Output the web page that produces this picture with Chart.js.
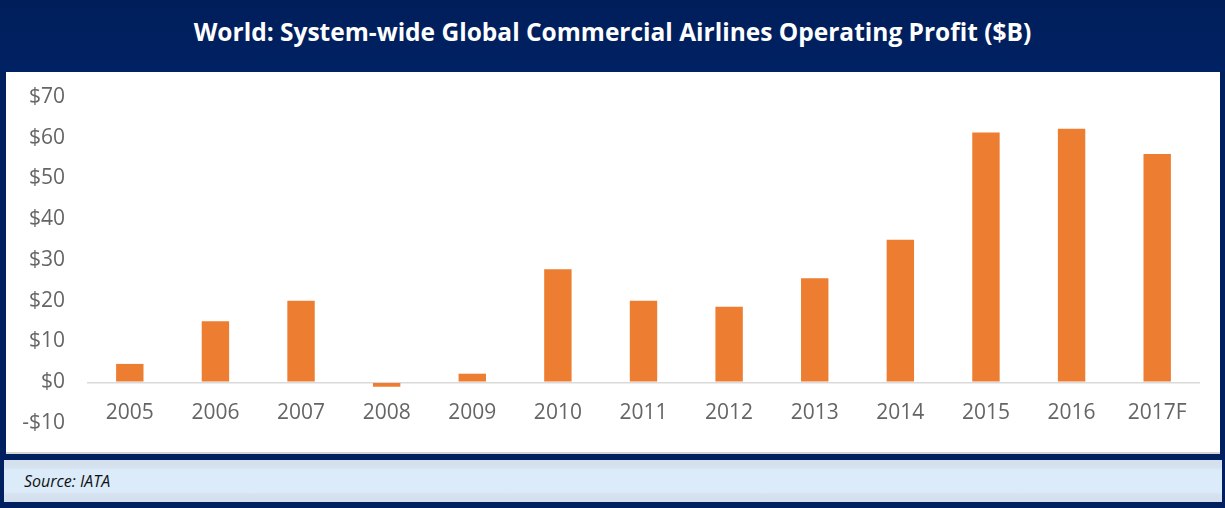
<!DOCTYPE html>
<html>
<head>
<meta charset="utf-8">
<script src="https://cdn.jsdelivr.net/npm/chart.js@4"></script>
<style>
  html, body { margin: 0; padding: 0; }
  body { width: 1225px; height: 508px; background: #002060; position: relative; overflow: hidden; font-family: "Open Sans", sans-serif; }
  #title { position: absolute; left: 0; top: 0; width: 1225px; height: 72px; background: linear-gradient(#001e5a, #002163); color: #fff; font-weight: 700; font-size: 24.5px; display: flex; align-items: center; justify-content: center; padding-bottom: 10px; box-sizing: border-box; }
  #panel { position: absolute; left: 6px; top: 72px; width: 1214px; height: 380px; background: #fff; border-bottom: 2px solid #d4d4d4; }
  #source { position: absolute; left: 4px; top: 460px; width: 1218px; height: 42px; background: linear-gradient(#d4dfec 0%, #d6e2ef 18%, #dcebf9 24%, #dcebf9 76%, #d6e2ef 82%, #d4dfec 100%); font-style: italic; font-size: 16px; color: #111; line-height: 42px; padding-left: 20px; box-sizing: border-box; }
  #chartBox { position: absolute; left: 6px; top: 72px; width: 1214px; height: 380px; }
</style>
</head>
<body>
<div id="title">World: System-wide Global Commercial Airlines Operating Profit ($B)</div>
<div id="panel"></div>
<div id="chartBox"><canvas id="c" width="1214" height="380"></canvas></div>
<div id="source">Source: IATA</div>
<script>
// Operating profit by year, in billions of US dollars
const years = ['2005', '2006', '2007', '2008', '2009', '2010', '2011', '2012', '2013', '2014', '2015', '2016', '2017F'];
const profit = [4.5, 15.0, 20.0, -1.1, 2.1, 27.7, 20.0, 18.5, 25.5, 35.0, 61.3, 62.2, 56.0];
const axisMin = -10;
const axisMax = 70;
const axisStep = 10;

const tickFont = { family: '"Open Sans", sans-serif', size: 21 };

new Chart(document.getElementById('c'), {
  type: 'bar',
  data: {
    labels: years,
    datasets: [{
      data: profit,
      backgroundColor: '#ed7d31',
      borderWidth: 0,
      categoryPercentage: 1.0,
      barPercentage: 0.32
    }]
  },
  options: {
    responsive: false,
    animation: false,
    layout: { autoPadding: false, padding: { top: 25, right: 20, bottom: 0, left: 0 } },
    plugins: { legend: { display: false }, tooltip: { enabled: false } },
    scales: {
      x: {
        grid: { display: false },
        border: { display: false },
        // year labels sit just under the zero line, above the -$10 tick
        ticks: { color: '#656565', font: tickFont, padding: -3, mirror: true, maxRotation: 0 },
        afterFit: (s) => { s.height = 29; s.paddingLeft = 0; s.paddingRight = 0; }
      },
      y: {
        min: axisMin,
        max: axisMax,
        border: { display: false },
        grid: {
          drawTicks: false,
          lineWidth: 1.5,
          // only the zero line is drawn
          color: (ctx) => (ctx.tick && ctx.tick.value === 0 ? '#d9d9d9' : 'rgba(0,0,0,0)')
        },
        ticks: {
          stepSize: axisStep,
          color: '#656565',
          font: tickFont,
          padding: 22,
          callback: (v) => (v < 0 ? '-$' + Math.abs(v) : '$' + v)
        },
        afterFit: (s) => { s.width = 81; s.paddingTop = 0; s.paddingBottom = 0; }
      }
    }
  }
});
</script>
</body>
</html>
